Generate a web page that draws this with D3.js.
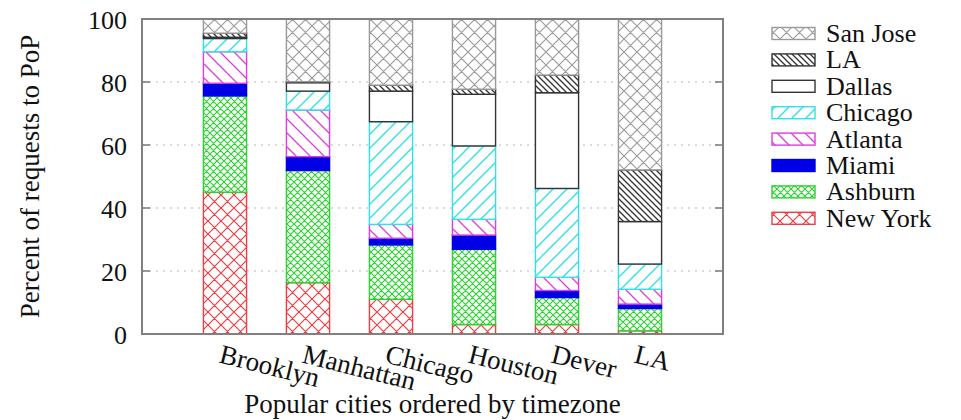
<!DOCTYPE html>
<html><head><meta charset="utf-8">
<script src="https://cdn.jsdelivr.net/npm/d3@7"></script>
<style>body{margin:0;background:#fff}svg{display:block}text{font-family:"Liberation Serif","Times New Roman",serif;fill:#111}</style>
</head><body><svg id="c" width="961" height="420"></svg>
<script>
const cities = ["Brooklyn","Manhattan","Chicago","Houston","Dever","LA"];
const pops = ["New York","Ashburn","Miami","Atlanta","Chicago","Dallas","LA","San Jose"];
const newYork = [45, 16.3, 11, 3, 3, 1];
const ashburn = [30.6, 35.6, 17.3, 23.9, 8.6, 7.1];
const miami   = [4, 4.4, 2.1, 4.5, 2.2, 1.4];
const atlanta = [10, 14.8, 4.4, 5.0, 4.2, 4.7];
const chicago = [4.2, 6.0, 32.6, 23.3, 28.2, 8.0];
const dallas  = [0.4, 2.7, 9.7, 16.4, 30.4, 13.5];
const la      = [1.3, 0.3, 1.9, 1.6, 5.6, 16.4];
const sanJose = [4.5, 19.9, 21.0, 22.3, 17.8, 47.9];
const yTicks = [0, 20, 40, 60, 80, 100];

const seriesVals = [newYork, ashburn, miami, atlanta, chicago, dallas, la, sanJose];
const rows = cities.map((c, i) => {
  const r = {city: c};
  pops.forEach((p, k) => r[p] = seriesVals[k][i]);
  return r;
});

const svg = d3.select("#c");
const L = 142, R = 723, T = 19, B = 334;
const x = d3.scalePoint().domain(cities).range([L, R]).padding(1);
const y = d3.scaleLinear().domain([0, 100]).range([B, T]);
const bw = x.step() * 0.52;

const defs = svg.append("defs");
function hatch(id, s, color, dir, sw) {
  const p = defs.append("pattern").attr("id", id).attr("patternUnits", "userSpaceOnUse")
    .attr("width", s).attr("height", s);
  p.append("rect").attr("width", s).attr("height", s).attr("fill", "#fff");
  const fwd = `M-1,1 l2,-2 M0,${s} l${s},-${s} M${s-1},${s+1} l2,-2`;
  const bwd = `M-1,${s-1} l2,2 M0,0 l${s},${s} M${s-1},-1 l2,2`;
  const d = dir === "/" ? fwd : dir === "\\" ? bwd : fwd + " " + bwd;
  p.append("path").attr("d", d).attr("stroke", color).attr("stroke-width", sw).attr("fill", "none");
}
hatch("pNY", 13, "#ea3f45", "x", 1.2);
hatch("pASH", 7, "#2fd233", "x", 1.2);
hatch("pATL", 14, "#e03ce0", "\\", 1.3);
hatch("pCHI", 14, "#2fe2ea", "/", 1.4);
hatch("pLA", 6, "#333", "\\", 1.3);
hatch("pSJ", 13, "#9a9a9a", "x", 1.1);

const fills = {"New York":"url(#pNY)","Ashburn":"url(#pASH)","Miami":"#0000e6","Atlanta":"url(#pATL)",
  "Chicago":"url(#pCHI)","Dallas":"#ffffff","LA":"url(#pLA)","San Jose":"url(#pSJ)"};
const strokes = {"New York":"#ea3f45","Ashburn":"#2fd233","Miami":"#0000e6","Atlanta":"#e03ce0",
  "Chicago":"#2fe2ea","Dallas":"#333","LA":"#333","San Jose":"#999"};

svg.append("g").selectAll("line").data(yTicks.filter(t => t > 0 && t < 100)).join("line")
  .attr("x1", L).attr("x2", R).attr("y1", d => y(d)).attr("y2", d => y(d))
  .attr("stroke", "#b8b8b8").attr("stroke-width", 1.2).attr("stroke-dasharray", "2,5");

const stack = d3.stack().keys(pops)(rows);
const g = svg.append("g");
stack.forEach(s => {
  g.append("g").selectAll("rect").data(s).join("rect")
    .attr("x", d => x(d.data.city) - bw / 2)
    .attr("width", bw)
    .attr("y", d => y(d[1]))
    .attr("height", d => Math.max(0, y(d[0]) - y(d[1])))
    .attr("fill", fills[s.key])
    .attr("stroke", strokes[s.key])
    .attr("stroke-width", 1.4);
});

const tk = svg.append("g");
yTicks.forEach(t => {
  tk.append("line").attr("x1", L).attr("x2", L + 8).attr("y1", y(t)).attr("y2", y(t)).attr("stroke", "#777").attr("stroke-width", 1.5);
  tk.append("line").attr("x1", R - 8).attr("x2", R).attr("y1", y(t)).attr("y2", y(t)).attr("stroke", "#777").attr("stroke-width", 1.5);
});
svg.append("rect").attr("x", L).attr("y", T).attr("width", R - L).attr("height", B - T)
  .attr("fill", "none").attr("stroke", "#808080").attr("stroke-width", 2);

svg.append("g").selectAll("text").data(yTicks).join("text")
  .attr("x", 127).attr("y", d => y(d)).attr("dy", "0.4em")
  .attr("text-anchor", "end").attr("font-size", 26).text(d => d);

svg.append("g").selectAll("text").data(cities).join("text")
  .attr("transform", d => `translate(${x(d) - 1},338) rotate(14)`)
  .attr("x", 0).attr("y", 25).attr("text-anchor", "start").attr("font-size", 27).text(d => d);

svg.append("text").attr("transform", `translate(39,${(T + B) / 2}) rotate(-90)`)
  .attr("text-anchor", "middle").attr("font-size", 27).text("Percent of requests to PoP");
svg.append("text").attr("x", (L + R) / 2).attr("y", 413).attr("text-anchor", "middle")
  .attr("font-size", 27).text("Popular cities ordered by timezone");

const legOrder = pops.slice().reverse();
const lg = svg.append("g");
legOrder.forEach((p, i) => {
  const cy = 33.5 + i * 26.4;
  lg.append("rect").attr("x", 772).attr("y", cy - 6).attr("width", 43).attr("height", 12)
    .attr("fill", fills[p]).attr("stroke", strokes[p]).attr("stroke-width", 1.4);
  lg.append("text").attr("x", 826).attr("y", cy + 8.5).attr("font-size", 26).text(p);
});
</script></body></html>
